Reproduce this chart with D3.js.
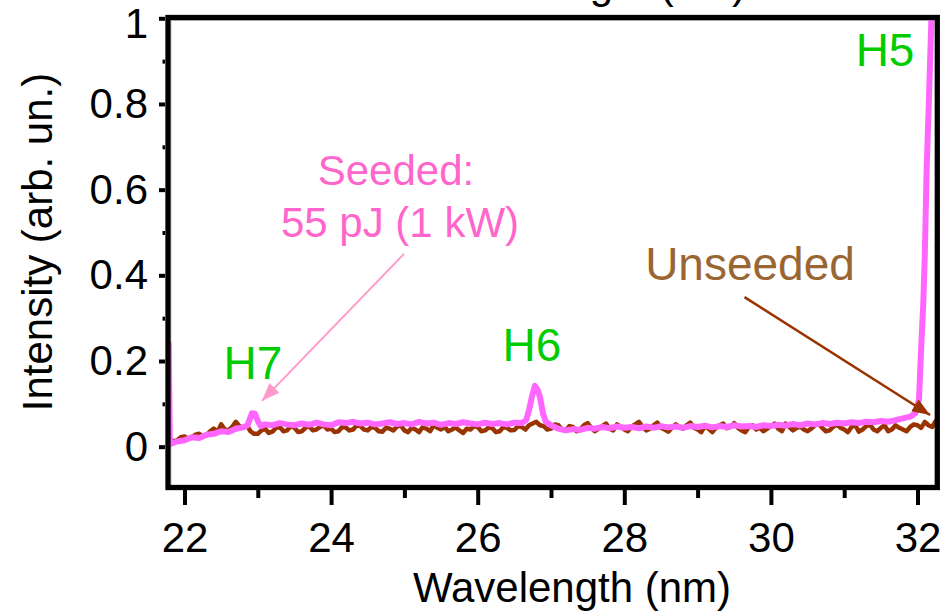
<!doctype html>
<meta charset="utf-8">
<title>Seeded vs unseeded harmonic spectrum</title>
<style>
    html, body {
        margin: 0;
        background: white;
    }

    svg {
        display: block;
        font-family: "Liberation Sans", Arial, Helvetica, sans-serif;
    }

    .tick line {
        stroke: black;
        stroke-width: 4;
    }

    .tick text {
        font-size: 42px;
        fill: black;
    }

    .domain {
        display: none;
    }

    .line {
        fill: none;
        stroke-linejoin: round;
        stroke-linecap: round;
    }
</style>
<svg width=945 height=613></svg>
<script src=https://d3js.org/d3.v7.min.js></script>
<script>
    // spectra: [wavelength (nm), intensity (arb. un.)]
    var seeded = [
        [21.785, 0.24], [21.80, 0.006], [21.9, 0.012], [22.0, 0.015], [22.1, 0.022], [22.2, 0.02],
        [22.3, 0.028], [22.4, 0.03], [22.5, 0.036], [22.6, 0.034], [22.7, 0.042], [22.8, 0.045],
        [22.86, 0.05], [22.92, 0.078], [22.96, 0.077], [23.0, 0.06], [23.04, 0.048], [23.1, 0.052],
        [23.2, 0.05], [23.3, 0.055], [23.4, 0.052], [23.5, 0.05], [23.6, 0.054], [23.7, 0.051],
        [23.8, 0.056], [23.9, 0.052], [24.0, 0.05], [24.1, 0.057], [24.2, 0.055], [24.3, 0.058],
        [24.4, 0.054], [24.5, 0.056], [24.6, 0.052], [24.7, 0.054], [24.8, 0.057], [24.9, 0.053],
        [25.0, 0.055], [25.1, 0.052], [25.2, 0.058], [25.3, 0.054], [25.4, 0.056], [25.5, 0.051],
        [25.6, 0.055], [25.7, 0.053], [25.8, 0.057], [25.9, 0.054], [26.0, 0.052], [26.1, 0.056],
        [26.2, 0.053], [26.3, 0.055], [26.4, 0.052], [26.5, 0.056], [26.6, 0.055], [26.66, 0.062],
        [26.70, 0.085], [26.74, 0.117], [26.78, 0.142], [26.82, 0.132], [26.85, 0.115], [26.89, 0.078],
        [26.93, 0.058], [27.0, 0.05], [27.1, 0.042], [27.2, 0.038], [27.3, 0.041], [27.4, 0.039],
        [27.5, 0.044], [27.6, 0.042], [27.7, 0.046], [27.8, 0.043], [27.9, 0.047], [28.0, 0.044],
        [28.1, 0.046], [28.2, 0.043], [28.3, 0.047], [28.4, 0.044], [28.5, 0.048], [28.6, 0.045],
        [28.7, 0.047], [28.8, 0.044], [28.9, 0.048], [29.0, 0.046], [29.1, 0.049], [29.2, 0.045],
        [29.3, 0.048], [29.4, 0.046], [29.5, 0.05], [29.6, 0.047], [29.7, 0.048], [29.8, 0.046],
        [29.9, 0.05], [30.0, 0.048], [30.1, 0.051], [30.2, 0.049], [30.3, 0.053], [30.4, 0.05],
        [30.5, 0.054], [30.6, 0.052], [30.7, 0.055], [30.8, 0.053], [30.9, 0.056], [31.0, 0.054],
        [31.1, 0.057], [31.2, 0.055], [31.3, 0.058], [31.4, 0.057], [31.5, 0.06], [31.6, 0.058],
        [31.7, 0.062], [31.8, 0.066], [31.9, 0.07], [31.97, 0.078], [32.02, 0.11], [32.05, 0.23],
        [32.08, 0.34], [32.10, 0.45], [32.125, 0.65], [32.15, 0.78], [32.17, 0.89], [32.19, 1.0],
        [32.21, 1.08]
    ];

    var unseeded = [
        [21.8, 0.018], [21.85, 0.012], [21.9, 0.015], [21.95, 0.022], [22.0, 0.024], [22.05, 0.018],
        [22.1, 0.022], [22.15, 0.028], [22.2, 0.03], [22.25, 0.024], [22.3, 0.026], [22.35, 0.036],
        [22.4, 0.042], [22.45, 0.034], [22.5, 0.052], [22.55, 0.04], [22.6, 0.038], [22.65, 0.046],
        [22.7, 0.058], [22.75, 0.048], [22.8, 0.044], [22.85, 0.05], [22.9, 0.036], [22.95, 0.03],
        [23.0, 0.03], [23.05, 0.038], [23.1, 0.042], [23.15, 0.032], [23.2, 0.035], [23.25, 0.044],
        [23.3, 0.046], [23.35, 0.036], [23.4, 0.038], [23.45, 0.048], [23.5, 0.044], [23.55, 0.034],
        [23.6, 0.036], [23.65, 0.044], [23.7, 0.048], [23.75, 0.038], [23.8, 0.04], [23.85, 0.046],
        [23.9, 0.05], [23.95, 0.04], [24.0, 0.042], [24.05, 0.034], [24.1, 0.036], [24.15, 0.046],
        [24.2, 0.045], [24.25, 0.038], [24.3, 0.04], [24.35, 0.05], [24.4, 0.048], [24.45, 0.04],
        [24.5, 0.038], [24.55, 0.046], [24.6, 0.044], [24.65, 0.036], [24.7, 0.035], [24.75, 0.044],
        [24.8, 0.042], [24.85, 0.038], [24.9, 0.047], [24.95, 0.05], [25.0, 0.038], [25.05, 0.034],
        [25.1, 0.044], [25.15, 0.04], [25.2, 0.034], [25.25, 0.046], [25.3, 0.042], [25.35, 0.036],
        [25.4, 0.05], [25.45, 0.044], [25.5, 0.04], [25.55, 0.046], [25.6, 0.036], [25.65, 0.04],
        [25.7, 0.045], [25.75, 0.038], [25.8, 0.032], [25.85, 0.042], [25.9, 0.04], [25.95, 0.048],
        [26.0, 0.046], [26.05, 0.036], [26.1, 0.038], [26.15, 0.045], [26.2, 0.043], [26.25, 0.034],
        [26.3, 0.036], [26.35, 0.046], [26.4, 0.044], [26.45, 0.038], [26.5, 0.039], [26.55, 0.048],
        [26.6, 0.046], [26.65, 0.04], [26.7, 0.05], [26.75, 0.054], [26.8, 0.058], [26.85, 0.05],
        [26.9, 0.048], [26.95, 0.04], [27.0, 0.042], [27.05, 0.052], [27.1, 0.05], [27.15, 0.04],
        [27.2, 0.038], [27.25, 0.048], [27.3, 0.046], [27.35, 0.036], [27.4, 0.04], [27.45, 0.05],
        [27.5, 0.055], [27.55, 0.044], [27.6, 0.036], [27.65, 0.042], [27.7, 0.048], [27.75, 0.054],
        [27.8, 0.042], [27.85, 0.038], [27.9, 0.052], [27.95, 0.046], [28.0, 0.04], [28.05, 0.036],
        [28.1, 0.047], [28.15, 0.052], [28.2, 0.058], [28.25, 0.046], [28.3, 0.038], [28.35, 0.042],
        [28.4, 0.05], [28.45, 0.056], [28.5, 0.044], [28.55, 0.04], [28.6, 0.035], [28.65, 0.044],
        [28.7, 0.052], [28.75, 0.046], [28.8, 0.042], [28.85, 0.05], [28.9, 0.056], [28.95, 0.044],
        [29.0, 0.04], [29.05, 0.034], [29.1, 0.048], [29.15, 0.042], [29.2, 0.034], [29.25, 0.044],
        [29.3, 0.05], [29.35, 0.054], [29.4, 0.043], [29.45, 0.046], [29.5, 0.055], [29.55, 0.044],
        [29.6, 0.038], [29.65, 0.034], [29.7, 0.046], [29.75, 0.05], [29.8, 0.04], [29.85, 0.044],
        [29.9, 0.036], [29.95, 0.042], [30.0, 0.048], [30.05, 0.054], [30.1, 0.042], [30.15, 0.036],
        [30.2, 0.054], [30.25, 0.046], [30.3, 0.038], [30.35, 0.044], [30.4, 0.047], [30.45, 0.04],
        [30.5, 0.036], [30.55, 0.042], [30.6, 0.05], [30.65, 0.054], [30.7, 0.044], [30.75, 0.036],
        [30.8, 0.038], [30.85, 0.046], [30.9, 0.052], [30.95, 0.044], [31.0, 0.04], [31.05, 0.034],
        [31.1, 0.046], [31.15, 0.05], [31.2, 0.035], [31.25, 0.04], [31.3, 0.048], [31.35, 0.052],
        [31.4, 0.04], [31.45, 0.036], [31.5, 0.044], [31.55, 0.05], [31.6, 0.036], [31.65, 0.04],
        [31.7, 0.05], [31.75, 0.044], [31.8, 0.04], [31.85, 0.036], [31.9, 0.046], [31.95, 0.052],
        [32.0, 0.05], [32.05, 0.044], [32.1, 0.058], [32.15, 0.05], [32.2, 0.046], [32.25, 0.06],
        [32.27, 0.055]
    ];

    var xTicks = [22, 24, 26, 28, 30, 32];
    var xMinorTicks = [23, 25, 27, 29, 31];
    var yTicks = [0, 0.2, 0.4, 0.6, 0.8, 1];
    var yMinorTicks = [0.1, 0.3, 0.5, 0.7, 0.9];

    // annotations, anchored in data units
    var harmonicNames = ['H7', 'H6', 'H5'];
    var harmonicAt = [[22.935, 0.158], [26.741, 0.2], [31.557, 0.889]];
    var seededNote = ['Seeded:', '55 pJ (1 kW)'];
    var seededNoteAt = [[24.885, 0.611], [24.94, 0.489]];
    var unseededNote = ['Unseeded'];
    var unseededNoteAt = [[29.715, 0.389]];
    var seededArrow = [[24.995, 0.45], [23.057, 0.107]];
    var unseededArrow = [[29.64, 0.349], [32.171, 0.074]];

    var svg = d3.select('svg');
    var box = { left: 168, top: 17.5, right: 937.3, bottom: 487.5 };

    var x = d3.scaleLinear().domain([21.775, 32.27]).range([box.left, box.right]);
    var y = d3.scaleLinear().domain([-0.1, 1]).range([489.5, 18.3]);

    var defs = svg.append('defs');
    defs.append('clipPath').attr('id', 'plot-clip')
        .append('rect')
        .attr('x', box.left).attr('y', box.top)
        .attr('width', box.right - box.left).attr('height', box.bottom - box.top);

    function arrowHead(id, color) {
        defs.append('marker')
            .attr('id', id)
            .attr('markerUnits', 'userSpaceOnUse')
            .attr('viewBox', '0 -8 18 16')
            .attr('refX', 18).attr('refY', 0)
            .attr('markerWidth', 18).attr('markerHeight', 16)
            .attr('orient', 'auto')
            .append('path')
            .attr('d', 'M0,-7L18,0L0,7Z')
            .attr('fill', color);
    }
    arrowHead('head-seeded', '#ff99cc');
    arrowHead('head-unseeded', '#993300');

    // thin grey edge of the axes box, just inside the black frame
    svg.append('rect')
        .attr('x', box.left + 3).attr('y', box.top + 3)
        .attr('width', box.right - box.left - 3.5).attr('height', box.bottom - box.top - 3.5)
        .attr('fill', 'none').attr('stroke', '#c4c4c4').attr('stroke-width', 1);

    var line = d3.line()
        .x(function (d) { return x(d[0]); })
        .y(function (d) { return y(d[1]); });

    var plot = svg.append('g').attr('clip-path', 'url(#plot-clip)');

    plot.append('path')
        .datum(unseeded)
        .attr('class', 'line')
        .attr('d', line)
        .attr('stroke', '#993300')
        .attr('stroke-width', 4.5);

    plot.append('path')
        .datum(seeded)
        .attr('class', 'line')
        .attr('d', line)
        .attr('stroke', '#ff66ff')
        .attr('stroke-width', 6);

    // black frame
    svg.append('rect')
        .attr('x', box.left).attr('y', box.top)
        .attr('width', box.right - box.left).attr('height', box.bottom - box.top)
        .attr('fill', 'none').attr('stroke', 'black').attr('stroke-width', 5.3);

    // bottom axis
    svg.append('g')
        .attr('transform', 'translate(0,490)')
        .call(d3.axisBottom(x).tickValues(xTicks).tickSize(15).tickPadding(17).tickFormat(d3.format('~g')));
    svg.append('g')
        .attr('transform', 'translate(0,490)')
        .call(d3.axisBottom(x).tickValues(xMinorTicks).tickSize(8).tickFormat(''));

    // left axis
    var yAxis = svg.append('g')
        .attr('transform', 'translate(165,0)')
        .call(d3.axisLeft(y).tickValues(yTicks).tickSize(6).tickPadding(11).tickFormat(d3.format('~g')));
    svg.append('g')
        .attr('transform', 'translate(165,0)')
        .call(d3.axisLeft(y).tickValues(yMinorTicks).tickSize(2.5).tickFormat(''));

    // the top label sits a little lower than its tick, as in the original
    yAxis.selectAll('.tick text')
        .filter(function (d) { return d === 1; })
        .attr('dy', '0.45em');

    svg.selectAll('.tick text').attr('font-family', null);

    // axis titles (the top one is cut off by the page edge)
    svg.append('text')
        .attr('x', 587).attr('y', -2)
        .attr('text-anchor', 'middle')
        .attr('font-size', 42)
        .text('Wavelength (nm)');

    svg.append('text')
        .attr('x', 572).attr('y', 602)
        .attr('text-anchor', 'middle')
        .attr('font-size', 42)
        .text('Wavelength (nm)');

    svg.append('text')
        .attr('transform', 'translate(52,242) rotate(-90)')
        .attr('text-anchor', 'middle')
        .attr('font-size', 42)
        .text('Intensity (arb. un.)');

    // arrows
    svg.append('line')
        .attr('x1', x(seededArrow[0][0])).attr('y1', y(seededArrow[0][1]))
        .attr('x2', x(seededArrow[1][0])).attr('y2', y(seededArrow[1][1]))
        .attr('stroke', '#ff99cc').attr('stroke-width', 2)
        .attr('marker-end', 'url(#head-seeded)');

    svg.append('line')
        .attr('x1', x(unseededArrow[0][0])).attr('y1', y(unseededArrow[0][1]))
        .attr('x2', x(unseededArrow[1][0])).attr('y2', y(unseededArrow[1][1]))
        .attr('stroke', '#993300').attr('stroke-width', 2.5)
        .attr('marker-end', 'url(#head-unseeded)');

    // labels
    svg.selectAll('.harmonic')
        .data(harmonicNames)
        .enter()
        .append('text')
        .attr('class', 'harmonic')
        .attr('x', function (d, i) { return x(harmonicAt[i][0]); })
        .attr('y', function (d, i) { return y(harmonicAt[i][1]); })
        .attr('text-anchor', 'middle')
        .attr('font-size', 46)
        .attr('fill', '#00cc00')
        .text(function (d) { return d; });

    svg.selectAll('.seeded-note')
        .data(seededNote)
        .enter()
        .append('text')
        .attr('class', 'seeded-note')
        .attr('x', function (d, i) { return x(seededNoteAt[i][0]); })
        .attr('y', function (d, i) { return y(seededNoteAt[i][1]); })
        .attr('text-anchor', 'middle')
        .attr('font-size', 42)
        .attr('fill', '#ff66cc')
        .text(function (d) { return d; });

    svg.selectAll('.unseeded-note')
        .data(unseededNote)
        .enter()
        .append('text')
        .attr('class', 'unseeded-note')
        .attr('x', function (d, i) { return x(unseededNoteAt[i][0]); })
        .attr('y', function (d, i) { return y(unseededNoteAt[i][1]); })
        .attr('text-anchor', 'middle')
        .attr('font-size', 46)
        .attr('fill', '#996633')
        .text(function (d) { return d; });
</script>
